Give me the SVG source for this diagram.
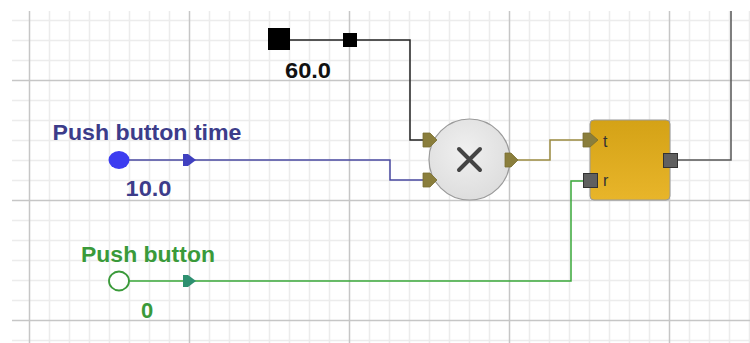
<svg xmlns="http://www.w3.org/2000/svg" width="750" height="343" viewBox="0 0 750 343">
<style>
.minor{stroke:#ececec;stroke-width:1.5;fill:none}
.major{stroke:#c6c6c6;stroke-width:1.5;fill:none}
.wire{fill:none;stroke-width:1.5}
.lbl{font-family:"Liberation Sans",Arial,sans-serif;font-weight:bold;font-size:22px;text-anchor:middle}
.port{fill:#8a7e3c;stroke:#7a6e30;stroke-width:0.8}
.sq{fill:#606060;stroke:#333;stroke-width:1}
.pl{font-family:"Liberation Sans",Arial,sans-serif;font-size:16px;fill:#333}
</style>
<defs>
<linearGradient id="gold" x1="0" y1="0" x2="0" y2="1">
<stop offset="0" stop-color="#d4a216"/>
<stop offset="1" stop-color="#e8b52a"/>
</linearGradient>
<radialGradient id="grey" cx="0.45" cy="0.4" r="0.65">
<stop offset="0" stop-color="#f0f0f0"/>
<stop offset="1" stop-color="#dcdcdc"/>
</radialGradient>
</defs>
<rect width="750" height="343" fill="#fff"/>
<g id="grid">
<path class="minor" d="M49.5 11V343M69.5 11V343M89.5 11V343M109.5 11V343M129.5 11V343M149.5 11V343M169.5 11V343M209.5 11V343M229.5 11V343M249.5 11V343M269.5 11V343M289.5 11V343M309.5 11V343M329.5 11V343M369.5 11V343M389.5 11V343M409.5 11V343M429.5 11V343M449.5 11V343M469.5 11V343M489.5 11V343M529.5 11V343M549.5 11V343M569.5 11V343M589.5 11V343M609.5 11V343M629.5 11V343M649.5 11V343M689.5 11V343M709.5 11V343M729.5 11V343M749.5 11V343"/>
<path class="minor" d="M12 20.5H750M12 40.5H750M12 60.5H750M12 100.5H750M12 120.5H750M12 140.5H750M12 160.5H750M12 180.5H750M12 220.5H750M12 240.5H750M12 260.5H750M12 280.5H750M12 300.5H750M12 340.5H750"/>
<path class="major" d="M29.5 11V343M189.5 11V343M349.5 11V343M509.5 11V343M669.5 11V343M12 80.5H750M12 200.5H750M12 320.5H750"/>
</g>
<g id="connectors">
<path class="wire" stroke="#222" d="M290 40H410V140H424"/>
<path class="wire" stroke="#4848a0" d="M129 160H390V180H424"/>
<path class="wire" stroke="#3aa83a" d="M129 281H571V181H584"/>
<path class="wire" stroke="#9a8a40" d="M517 160H550V140H584"/>
<path class="wire" stroke="#555" d="M677 160H731V11"/>
<path fill="#4040c0" d="M183 154H188L196 160L188 166H183Z"/>
<path fill="#2e9070" d="M183 275H188L196 281L188 287H183Z"/>
</g>
<g id="const60">
<rect x="268" y="28" width="22" height="22" fill="#000"/>
<text class="lbl" x="308" y="77.5" fill="#111" textLength="46" lengthAdjust="spacingAndGlyphs">60.0</text>
</g>
<g id="junction">
<rect x="343" y="33" width="14" height="14" fill="#000"/>
</g>
<g id="pushButtonTime">
<text class="lbl" x="147" y="140" fill="#3c3c8a" textLength="189" lengthAdjust="spacingAndGlyphs">Push button time</text>
<ellipse cx="119" cy="160" rx="10.5" ry="9" fill="#3c3cf0"/>
<text class="lbl" x="148.5" y="196" fill="#3c3c8a" textLength="46" lengthAdjust="spacingAndGlyphs">10.0</text>
</g>
<g id="pushButton">
<text class="lbl" x="148" y="262" fill="#3a9a3a" textLength="134" lengthAdjust="spacingAndGlyphs">Push button</text>
<ellipse cx="119" cy="281" rx="10" ry="9.5" fill="#fff" stroke="#3a9a3a" stroke-width="1.8"/>
<text class="lbl" x="147" y="318" fill="#3a9a3a">0</text>
</g>
<g id="multiply">
<circle cx="469.5" cy="159.5" r="40.5" fill="url(#grey)" stroke="#9a9a9a" stroke-width="1.2"/>
<path d="M459 149L480 170M480 149L459 170" stroke="#444" stroke-width="4" stroke-linecap="round"/>
<path class="port" d="M423 133H430L437 140L430 147H423Z"/>
<path class="port" d="M423 173H430L437 180L430 187H423Z"/>
<path class="port" d="M505 153H511L518 160L511 167H505Z"/>
</g>
<g id="timer">
<rect x="590" y="120" width="80" height="80" rx="4" fill="url(#gold)" stroke="#9a9a9a" stroke-width="1"/>
<path class="port" d="M583 133H590L598 140L590 147H583Z"/>
<rect class="sq" x="583.5" y="173.5" width="14" height="14"/>
<rect class="sq" x="663.5" y="153.5" width="14" height="14"/>
<text class="pl" x="603" y="147">t</text>
<text class="pl" x="603" y="186">r</text>
</g>
</svg>
